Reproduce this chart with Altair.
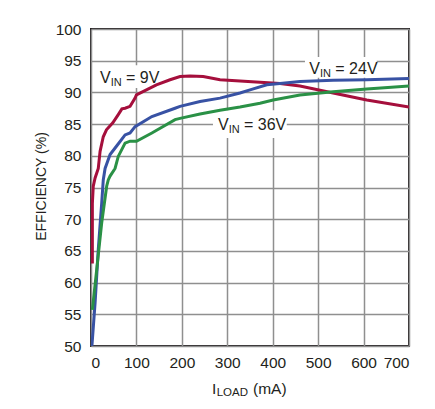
import altair as alt
import pandas as pd

# ---- data ----
red_x = [3, 3, 5, 9, 16, 20, 27, 34, 48, 60, 68, 75, 86, 97, 100, 144, 174, 196, 218, 247, 284, 328, 372, 416, 460, 533, 607, 700]
red_y = [63, 72.5, 75.2, 76.5, 78, 80.7, 83, 84.1, 85.2, 86.5, 87.4, 87.5, 87.8, 89.1, 89.6, 91.2, 92.0, 92.5, 92.6, 92.5, 92.0, 91.8, 91.6, 91.4, 91.0, 89.9, 88.8, 87.7]

blue_x = [2, 9, 16, 23.5, 27, 31, 42, 56, 75, 86, 97, 134, 185, 196, 240, 284, 328, 350, 387, 416, 460, 533, 607, 700]
blue_y = [50, 56.8, 65.2, 72.5, 76.2, 78, 80.2, 81.5, 83.3, 83.6, 84.6, 86.2, 87.5, 87.8, 88.55, 89.1, 89.9, 90.4, 91.2, 91.4, 91.7, 91.9, 92.0, 92.2]

green_x = [3, 12.5, 23.5, 34.5, 38, 42, 53, 60, 75, 86, 100, 134, 185, 196, 240, 284, 328, 372, 401, 460, 533, 607, 700]
green_y = [55.7, 62, 69.4, 75.2, 76.2, 76.8, 78, 79.9, 82, 82.3, 82.3, 83.6, 85.7, 85.9, 86.6, 87.2, 87.7, 88.3, 88.8, 89.6, 90.1, 90.55, 91.0]

series_names = ["9V", "24V", "36V"]
series_colors = ["#a50f3c", "#3852a4", "#2a9146"]

x_ticks = [0, 100, 200, 300, 400, 500, 600, 700]
y_ticks = [50, 55, 60, 65, 70, 75, 80, 85, 90, 95, 100]

label_x = [19.8, 480.6, 279.5]
label_y = [91.45, 92.9, 84.0]
label_rest = ["= 9V", "= 24V", "= 36V"]
box_x1 = [13, 471, 268.5]
box_x2 = [154, 629, 431]
box_y1 = [90.7, 92.3, 82.8]
box_y2 = [94.3, 95.6, 87.2]

x_title_parts = ["I", "LOAD", "(mA)"]
y_title = "EFFICIENCY (%)"

FONT = "Liberation Sans, Arial, sans-serif"
TXT = "#231f20"
GRID = "#8f8f8f"

rows = []
for name, xs, ys in [("9V", red_x, red_y), ("24V", blue_x, blue_y), ("36V", green_x, green_y)]:
    for i, (a, b) in enumerate(zip(xs, ys)):
        rows.append({"series": name, "x": a, "y": b, "order": i})
df = pd.DataFrame(rows)

labels = pd.DataFrame({"x": label_x, "y": label_y, "rest": label_rest,
                       "x1": box_x1, "x2": box_x2, "y1": box_y1, "y2": box_y2})

xscale = alt.Scale(domain=[0, 700], nice=False, zero=False)
yscale = alt.Scale(domain=[50, 100], nice=False, zero=False)

xaxis = alt.Axis(values=x_ticks, grid=True, ticks=False, domain=False, title=None,
                 labelPadding=9, labelOverlap=False)
yaxis = alt.Axis(values=y_ticks, grid=True, ticks=False, domain=False, title=y_title,
                 labelPadding=10, labelOverlap=False,
                 titleX=-50, titleY=157, titleBaseline="middle", titleAngle=-90)


def X(f):
    return alt.X(f, scale=xscale, axis=xaxis)


def Y(f):
    return alt.Y(f, scale=yscale, axis=yaxis)


boxes = alt.Chart(labels).mark_rect(color="white").encode(
    x=X("x1:Q"), x2="x2:Q", y=Y("y1:Q"), y2="y2:Q")

lines = alt.Chart(df).mark_line(strokeWidth=3, clip=True).encode(
    x=X("x:Q"), y=Y("y:Q"),
    color=alt.Color("series:N", scale=alt.Scale(domain=series_names, range=series_colors), legend=None),
    order="order:Q")

base_lab = alt.Chart(labels).encode(x=X("x:Q"), y=Y("y:Q"))
t_v = base_lab.mark_text(text="V", align="left", baseline="alphabetic", font=FONT, fontSize=16, color=TXT)
t_in = base_lab.mark_text(text="IN", align="left", baseline="alphabetic", font=FONT, fontSize=11, color=TXT, dx=10.7, dy=3)
t_rest = base_lab.mark_text(align="left", baseline="alphabetic", font=FONT, fontSize=16, color=TXT, dx=26).encode(text="rest:N")

xt = pd.DataFrame({"t": x_title_parts})
xt_i = alt.Chart(xt.iloc[[0]]).mark_text(align="left", baseline="alphabetic", font=FONT, fontSize=15.5, color=TXT).encode(
    x=alt.value(121), y=alt.value(364.5), text="t:N")
xt_load = alt.Chart(xt.iloc[[1]]).mark_text(align="left", baseline="alphabetic", font=FONT, fontSize=11.5, color=TXT).encode(
    x=alt.value(125.7), y=alt.value(367), text="t:N")
xt_ma = alt.Chart(xt.iloc[[2]]).mark_text(align="left", baseline="alphabetic", font=FONT, fontSize=15.5, color=TXT).encode(
    x=alt.value(162), y=alt.value(364.5), text="t:N")

chart = alt.layer(boxes, lines, t_v, t_in, t_rest, xt_i, xt_load, xt_ma).properties(
    width=318, height=317,
    background="white",
    autosize=alt.AutoSizeParams(type="none"),
    padding={"left": 83, "top": 21, "right": 10, "bottom": 62},
).configure_axis(
    grid=True, gridColor=GRID, gridWidth=1.5, gridOpacity=1,
    labelFont=FONT, labelFontSize=15.5, labelColor=TXT,
    titleFont=FONT, titleFontSize=14, titleFontWeight="normal", titleColor=TXT,
).configure_view(stroke="#231f20", strokeWidth=2)

chart.save("out.html", embed_options={"renderer": "svg", "actions": False})
